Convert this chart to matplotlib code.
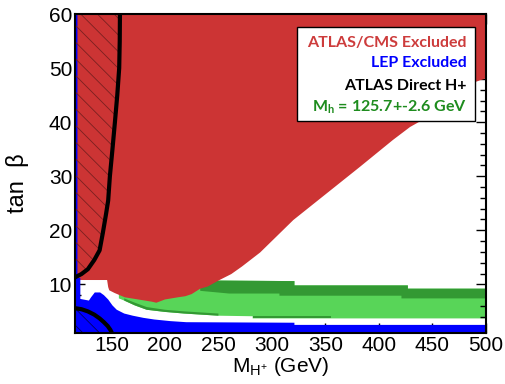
import matplotlib
matplotlib.use("Agg")
import matplotlib.pyplot as plt
from matplotlib.patches import Rectangle
from matplotlib.ticker import MultipleLocator

plt.rcParams['font.family'] = ['Liberation Sans', 'DejaVu Sans']
plt.rcParams['mathtext.fontset'] = 'custom'
plt.rcParams['mathtext.rm'] = 'Liberation Sans'
plt.rcParams['mathtext.bf'] = 'Lato:bold'
plt.rcParams['hatch.linewidth'] = 0.6

# ATLAS/CMS excluded: lower edge of the red region (M_H+ in GeV, tan beta)
red_m = [116, 146, 147, 148, 153, 162.6, 172, 187.6, 192, 200, 212, 219, 225, 233,
         240, 251, 262, 272, 289, 320, 351, 382, 413, 429, 438, 491, 500]
red_tb = [10.8, 10.8, 9.5, 8.9, 8.4, 7.6, 7.3, 6.8, 6.6, 7.2, 7.6, 7.8, 8.2, 9.2,
          9.6, 10.8, 11.9, 13.3, 15.9, 21.9, 26.8, 31.7, 36.7, 39.1, 40.1, 47.5, 48.1]

# LEP excluded outline
blue_m = [116, 116, 118.3, 118.3, 121, 121, 129, 131, 134.5, 139.5, 143, 147, 151, 155,
          162, 170, 180, 190, 205, 220, 321, 321, 500, 500]
blue_tb = [1, 60, 60, 11.2, 11.2, 7.3, 7.0, 7.6, 8.5, 8.5, 8.0, 7.2, 6.1, 5.3,
           4.6, 4.2, 3.8, 3.5, 3.2, 3.0, 2.9, 2.5, 2.5, 1]

# Mh = 125.7 +- 2.6 GeV band (light green outline)
light_m = [157, 157, 235, 250, 321, 321, 427, 427, 500, 500, 282, 282, 250, 218,
           200, 183, 172, 162]
light_tb = [7.4, 10, 10.1, 10.7, 10.6, 9.8, 9.8, 9.2, 9.2, 3.7, 3.7, 4.1, 4.2, 4.6,
            4.9, 5.3, 6.1, 7.0]

# dark green upper edge band
dark_m = [233, 250, 321, 321, 427, 427, 500, 500, 421, 421, 307, 307, 260, 233]
dark_tb = [10.1, 10.7, 10.6, 9.8, 9.8, 9.2, 9.2, 7.4, 7.4, 7.9, 7.9, 8.3, 8.3, 8.8]

# dark green lower edge strips
strip1_m = [162, 172, 183, 200, 218, 250, 250, 218, 200, 183, 172, 162]
strip1_tb = [7.0, 6.1, 5.3, 4.9, 4.6, 4.2, 4.6, 5.0, 5.3, 5.8, 6.6, 7.4]
strip2_m = [282, 355, 355, 282]
strip2_tb = [3.7, 3.7, 4.1, 4.1]

# ATLAS direct H+ limits (black lines)
atlas_m = [116, 122, 128, 134, 139, 142, 145, 147, 148.6, 151, 153.3, 155.5, 157.3, 157.8, 158]
atlas_tb = [11.3, 11.9, 12.8, 14.5, 16.3, 19.5, 23, 25.5, 30, 35, 40, 45, 50, 55, 60]
low_m = [116, 122, 128, 134, 139, 143, 146.5, 149, 150.5]
low_tb = [5.6, 5.4, 5.0, 4.4, 3.7, 3.0, 2.3, 1.6, 1.0]

legend_labels = ['ATLAS/CMS Excluded', 'LEP Excluded', 'ATLAS Direct H+',
                 r'M$_\mathbf{h}$ = 125.7+-2.6 GeV']
legend_colors = ['#CD3C3C', '#0000FF', 'black', '#1E8C1E']

fig = plt.figure(figsize=(5.05, 3.84), dpi=100)
ax = fig.add_axes([0.1485, 0.1328, 0.8139, 0.8307])

ax.fill(light_m, light_tb, color='#58D558', lw=0, zorder=1)
ax.fill(dark_m, dark_tb, color='#339933', lw=0, zorder=2)
ax.fill(strip1_m, strip1_tb, color='#339933', lw=0, zorder=2)
ax.fill(strip2_m, strip2_tb, color='#339933', lw=0, zorder=2)
ax.fill(red_m + [500, 116], red_tb + [60, 60], color='#CC3434', lw=0, zorder=3)
ax.fill(blue_m, blue_tb, color='#0000FF', lw=0, zorder=4)

# hatched side of the ATLAS limits
ax.fill(atlas_m + [116], atlas_tb + [60], facecolor='none', edgecolor='#7A2020',
        hatch='\\\\', lw=0, zorder=5)
ax.fill(low_m + [116], low_tb + [1], facecolor='none', edgecolor='#000060',
        hatch='\\\\', lw=0, zorder=5)
ax.plot(atlas_m, atlas_tb, color='black', lw=3, zorder=6, solid_capstyle='butt')
ax.plot(low_m, low_tb, color='black', lw=3, zorder=6, solid_capstyle='butt')

ax.set_xlim(116, 500)
ax.set_ylim(1, 60)
ax.xaxis.set_major_locator(MultipleLocator(50))
ax.xaxis.set_minor_locator(MultipleLocator(10))
ax.yaxis.set_major_locator(MultipleLocator(10))
ax.yaxis.set_minor_locator(MultipleLocator(2))
ax.tick_params(which='both', direction='in', top=True, right=True, width=1.0,
               labelsize=15, zorder=12)
ax.tick_params(which='major', length=7.5, pad=2)
ax.tick_params(which='minor', length=4)
for side in ax.spines.values():
    side.set_linewidth(1.5)
    side.set_zorder(12)

ax.set_xlabel(r'M$_{\mathrm{H^{+}}}$ (GeV)', fontsize=15, labelpad=0)
ax.set_ylabel('tan  β', fontsize=17)
ax.yaxis.set_label_coords(-0.112, 0.47)

ax.add_patch(Rectangle((0.540, 0.665), 0.433, 0.294, transform=ax.transAxes,
                       facecolor='white', edgecolor='black', lw=1.0, zorder=10))
ypos = [0.909, 0.846, 0.774, 0.708]
for lab, col, yy in zip(legend_labels, legend_colors, ypos):
    ax.text(0.953, yy, lab, color=col, transform=ax.transAxes, ha='right', va='center',
            fontsize=11.5, fontweight='bold', family=['Lato', 'DejaVu Sans'], zorder=11)

fig.savefig('out.png', dpi=100)
